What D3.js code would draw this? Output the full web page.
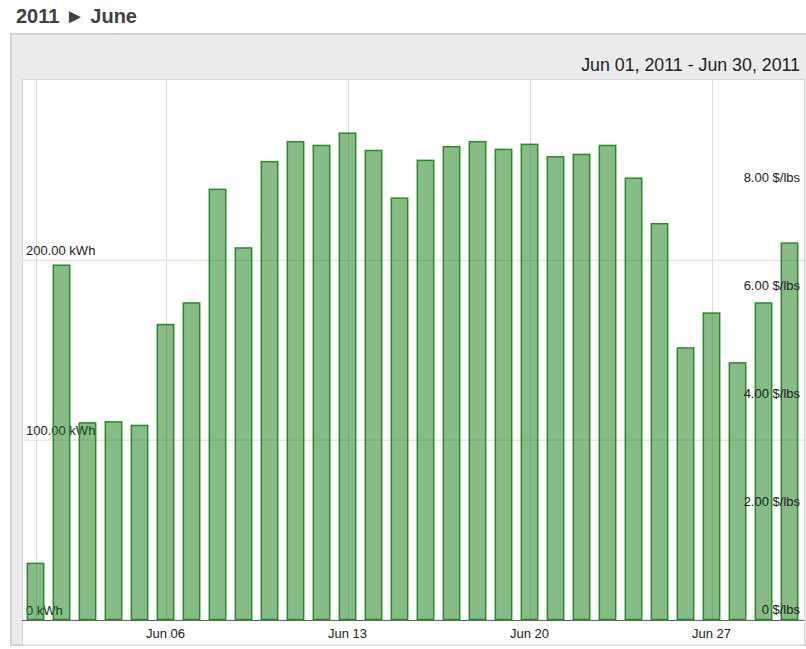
<!DOCTYPE html>
<html>
<head>
<meta charset="utf-8">
<script src="https://cdn.jsdelivr.net/npm/d3@7"></script>
<style>
  html, body { margin: 0; padding: 0; background: #fff; }
  svg { display: block; font-family: "Liberation Sans", Arial, sans-serif; }
</style>
</head>
<body>
<svg id="chart" width="806" height="649"></svg>
<script>
// jours du mois (juin 2011)
const days = [1, 2, 3, 4, 5, 6, 7, 8, 9, 10, 11, 12, 13, 14, 15,
              16, 17, 18, 19, 20, 21, 22, 23, 24, 25, 26, 27, 28, 29, 30];
// énergie produite par jour, kWh
const energy = [31.2, 197, 109.3, 109.9, 107.9, 164, 176, 239.2, 206.6, 254.6,
                265.7, 263.6, 270.4, 260.8, 234.3, 255.3, 262.9, 265.7, 261.4, 264.2,
                257.3, 258.6, 263.6, 245.4, 220.1, 151, 170.4, 142.7, 176, 209.3];
const gridDays = [1, 6, 13, 20, 27];
const labelDays = [6, 13, 20, 27];
const kwhTicks = [0, 100, 200];
const priceTicks = [0, 2, 4, 6, 8];
const chartTitle = "2011 \u25BA June";
const dateRange = "Jun 01, 2011 - Jun 30, 2011";

const svg = d3.select("#chart");

// titre
svg.append("text")
    .attr("x", 16).attr("y", 23)
    .attr("font-size", 20).attr("font-weight", "bold")
    .attr("fill", "#404040")
    .text(chartTitle);

// panneau gris
svg.append("rect")
    .attr("x", 11).attr("y", 34).attr("width", 800).attr("height", 611)
    .attr("fill", "#ebebeb").attr("stroke", "#d2d2d2").attr("stroke-width", 2);

svg.append("text")
    .attr("x", 800).attr("y", 71)
    .attr("text-anchor", "end")
    .attr("font-size", 17.8).attr("fill", "#222")
    .text(dateRange);

// zone blanche du graphique
const pLeft = 22, pRight = 804, pTop = 80, pBottom = 620;
svg.append("rect")
    .attr("x", pLeft + 0.5).attr("y", pTop - 0.5)
    .attr("width", pRight - pLeft).attr("height", 645 - pTop + 0.5)
    .attr("fill", "#fff").attr("stroke", "#d6d6d6");

const x = d3.scaleBand()
    .domain(days)
    .range([22.5, 802.5])
    .paddingInner(0.37)
    .paddingOuter(0.185);

const y = d3.scaleLinear().domain([0, 300]).range([pBottom - 0.5, pTop]);
const y2 = d3.scaleLinear().domain([0, 10]).range([pBottom - 0.5, pTop]);

const center = d => x(d) + x.bandwidth() / 2;

// grille verticale
svg.append("g")
  .selectAll("line")
  .data(gridDays)
  .join("line")
    .attr("x1", d => Math.round(center(d)) + 0.5)
    .attr("x2", d => Math.round(center(d)) + 0.5)
    .attr("y1", pTop).attr("y2", pBottom)
    .attr("stroke", "#dcdcdc");

// axe gauche (kWh) avec grille horizontale
const yAxis = svg.append("g")
    .attr("transform", `translate(${pLeft},0)`)
    .call(d3.axisLeft(y)
      .tickValues(kwhTicks)
      .tickSize(-(pRight - pLeft))
      .tickFormat(d => d === 0 ? "0 kWh" : d3.format(".2f")(d) + " kWh"));
yAxis.select(".domain").remove();
yAxis.selectAll(".tick line").attr("stroke", "#dcdcdc");
yAxis.selectAll(".tick text")
    .attr("x", 4).attr("dy", -5)
    .attr("text-anchor", "start")
    .attr("font-size", 13).attr("font-family", null)
    .attr("fill", "#222");

// barres
svg.append("g")
  .selectAll("rect")
  .data(days)
  .join("rect")
    .attr("x", d => x(d))
    .attr("y", (d, i) => y(energy[i]))
    .attr("width", x.bandwidth())
    .attr("height", (d, i) => y(0) - y(energy[i]))
    .attr("fill", "rgb(0,112,0)")
    .attr("fill-opacity", 0.47)
    .attr("stroke", "#2a8a2a")
    .attr("stroke-width", 1.5);

// axe droit ($/lbs)
const y2Axis = svg.append("g")
    .attr("transform", `translate(800,0)`)
    .call(d3.axisRight(y2)
      .tickValues(priceTicks)
      .tickSize(0)
      .tickFormat(d => d === 0 ? "0 $/lbs" : d3.format(".2f")(d) + " $/lbs"));
y2Axis.select(".domain").remove();
y2Axis.selectAll(".tick text")
    .attr("x", 0).attr("dy", -6)
    .attr("text-anchor", "end")
    .attr("font-size", 13).attr("font-family", null)
    .attr("fill", "#222");

// axe du bas
const xAxis = svg.append("g")
    .attr("transform", `translate(0,${pBottom})`)
    .call(d3.axisBottom(x)
      .tickValues(labelDays)
      .tickSize(0)
      .tickFormat(d => "Jun " + d3.format("02")(d)));
xAxis.select(".domain")
    .attr("d", `M${pLeft},0.5H${pRight}`)
    .attr("stroke", "#666");
xAxis.selectAll(".tick text")
    .attr("y", 18).attr("dy", 0)
    .attr("font-size", 13).attr("font-family", null)
    .attr("fill", "#222");
</script>
</body>
</html>
